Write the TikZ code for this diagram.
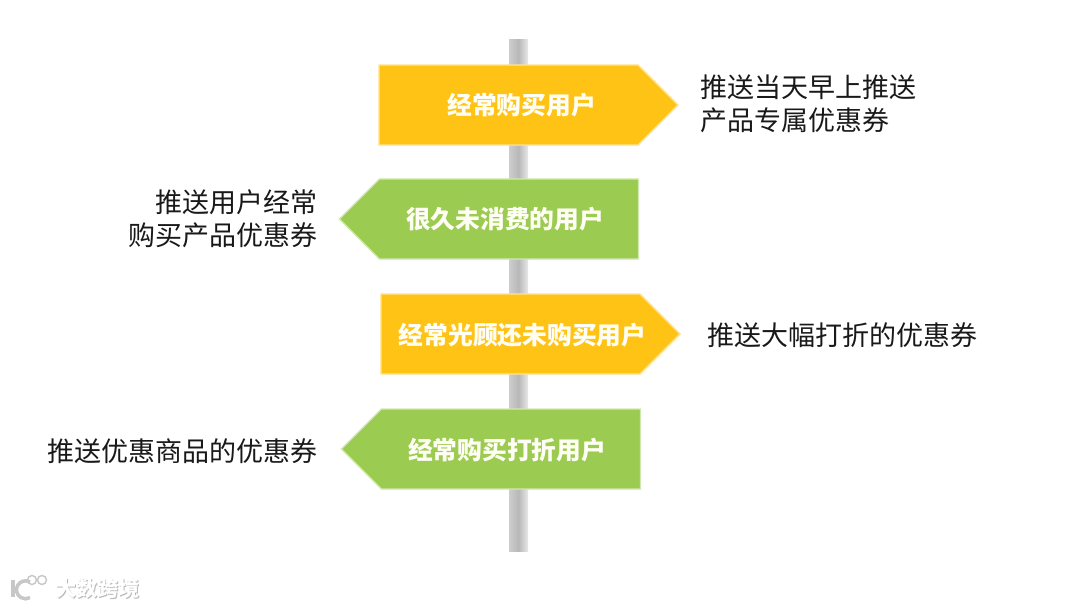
\documentclass[tikz,border=0pt]{standalone}
\usepackage{fontspec}
\usepackage{tikz}
\usetikzlibrary{shapes.symbols}
\newfontfamily\cjk{Noto Sans CJK SC}
\definecolor{signyellow}{HTML}{FFC316}
\definecolor{signgreen}{HTML}{9CCB52}
\definecolor{poledark}{HTML}{B8B8B8}
\definecolor{polelight}{HTML}{E8E8E8}
\definecolor{poleedge}{HTML}{CDCDCD}
\tikzset{
    pole/.style={draw=none,minimum width=0.475cm,minimum height=12.775cm,inner sep=0pt,left color=poleedge,right color=polelight,middle color=poledark},
    sign/.style={signal,signal pointer angle=90,minimum width=7.475cm,minimum height=2cm,inner sep=0pt,line width=1pt},
    signr/.style={sign,signal to=east,fill=signyellow,draw=signyellow!45!white},
    signl/.style={sign,signal to=west,fill=signgreen,draw=signgreen!45!white},
    signtext/.style={font=\cjk\fontsize{17.6}{20}\selectfont\bfseries,text=white!96!yellow},
    sidetext/.style={font=\cjk\fontsize{19.2}{23.5}\selectfont,text=black!90,inner sep=0pt},
    wmtext/.style={font=\cjk\fontsize{15}{18}\selectfont\bfseries,inner sep=0pt}
}
\begin{document}
\begin{tikzpicture}[x=0.025cm,y=-0.025cm]
    \useasboundingbox (0,0) rectangle (1080,608);
    \node[pole] (post) at (518.5,295.5) {};

    \node[signr] (buy) at (508.5,105) {};
    \node[signl] (away) at (509,219) {};
    \node[signr] (visit) at (510.5,334) {};
    \node[signl] (deal) at (511,449) {};

    \node[signtext] (buytext) at (521.5,105) {经常购买用户};
    \node[signtext] (awaytext) at (505,219) {很久未消费的用户};
    \node[signtext] (visittext) at (522.5,335) {经常光顾还未购买用户};
    \node[signtext] (dealtext) at (507,450) {经常购买打折用户};

    \node[sidetext,anchor=west,align=left] (buyside) at (700,104) {推送当天早上推送\\产品专属优惠券};
    \node[sidetext,anchor=east,align=right] (awayside) at (318,219) {推送用户经常\\购买产品优惠券};
    \node[sidetext,anchor=west] (visitside) at (707,335) {推送大幅打折的优惠券};
    \node[sidetext,anchor=east] (dealside) at (318,451) {推送优惠商品的优惠券};

    \node[wmtext,text=black!28] (wmshadow) at (98.5,589) {大数跨境};
    \node[wmtext,text=white] (wm) at (97.5,588) {大数跨境};
    \draw[black!22,line width=2.5pt] (13,580) -- (13,597);
    \draw[black!22,line width=2.5pt] (30,582) arc (-60:-300:9);
    \draw[black!22,line width=1pt] (32,580) circle (4.5);
    \draw[black!22,line width=1pt] (42,580) circle (4.5);
\end{tikzpicture}
\end{document}
